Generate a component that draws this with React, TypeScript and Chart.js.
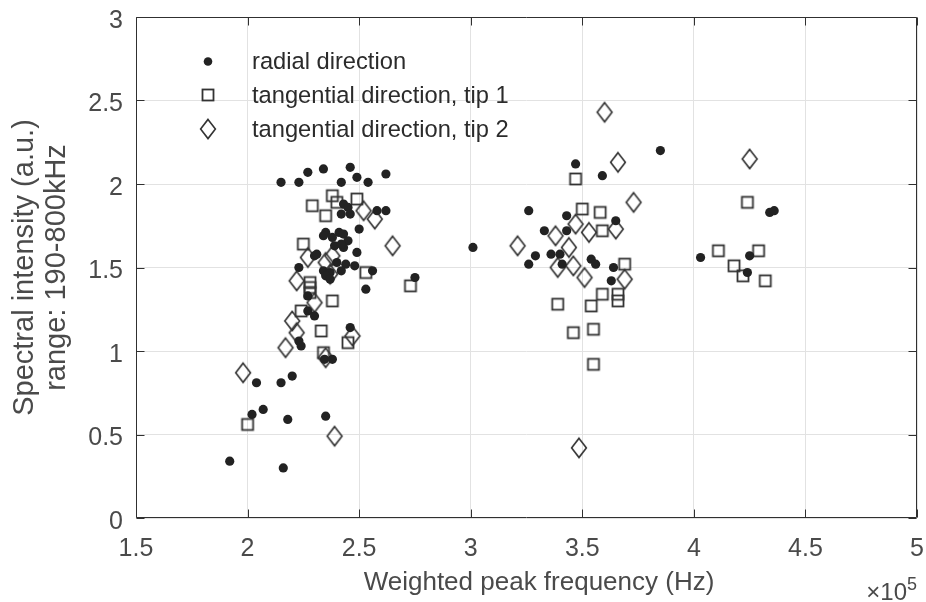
import React, { useEffect, useRef } from "react";
import { Chart, registerables } from "chart.js";

Chart.register(...registerables);

// ---- data (x in units of 1e5 Hz) ----
const radialX = [
  1.92, 2.16, 2.02, 2.07, 2.04, 2.15, 2.20, 2.18, 2.35, 2.23,
  2.24, 2.27, 2.30, 2.345, 2.38, 2.46, 2.27, 2.15, 2.23, 2.27,
  2.34, 2.46, 2.49, 2.42, 2.54, 2.62, 2.43, 2.45, 2.42, 2.46,
  2.58, 2.62, 2.50, 2.35, 2.41, 2.43, 2.34, 2.38, 2.45, 2.39,
  2.43, 2.42, 2.30, 2.31, 2.49, 2.40, 2.44, 2.48, 2.23, 2.34,
  2.37, 2.42, 2.56, 2.53, 2.75, 2.35, 2.37, 3.01, 3.26, 3.47,
  3.59, 3.85, 3.43, 3.65, 3.33, 3.43, 3.29, 3.26, 3.36, 3.40,
  3.41, 3.54, 3.56, 3.64, 3.63, 4.03, 4.25, 4.24, 4.34, 4.36,
];
const radialY = [
  0.34, 0.30, 0.62, 0.65, 0.81, 0.81, 0.85, 0.59, 0.61, 1.06,
  1.03, 1.24, 1.21, 0.95, 0.95, 1.14, 1.33, 2.01, 2.01, 2.07,
  2.09, 2.10, 2.04, 2.01, 2.01, 2.06, 1.88, 1.86, 1.82, 1.82,
  1.84, 1.84, 1.73, 1.71, 1.71, 1.70, 1.69, 1.68, 1.66, 1.63,
  1.62, 1.64, 1.57, 1.58, 1.59, 1.53, 1.52, 1.51, 1.50, 1.48,
  1.47, 1.48, 1.48, 1.37, 1.44, 1.45, 1.43, 1.62, 1.84, 2.12,
  2.05, 2.20, 1.81, 1.78, 1.72, 1.72, 1.57, 1.52, 1.58, 1.58,
  1.52, 1.55, 1.52, 1.50, 1.42, 1.56, 1.57, 1.47, 1.83, 1.84,
];
const tip1X = [
  2.00, 2.34, 2.45, 2.33, 2.24, 2.38, 2.28, 2.28, 2.28, 2.25,
  2.53, 2.73, 2.38, 2.29, 2.35, 2.40, 2.49, 3.47, 3.50, 3.58,
  3.59, 3.69, 3.59, 3.66, 3.66, 3.39, 3.54, 3.46, 3.55, 3.55,
  4.24, 4.11, 4.29, 4.18, 4.22, 4.32,
];
const tip1Y = [
  0.56, 0.99, 1.05, 1.12, 1.24, 1.30, 1.41, 1.38, 1.35, 1.64,
  1.47, 1.39, 1.93, 1.87, 1.81, 1.89, 1.91, 2.03, 1.85, 1.83,
  1.72, 1.52, 1.34, 1.34, 1.30, 1.28, 1.27, 1.11, 1.13, 0.92,
  1.89, 1.60, 1.60, 1.51, 1.45, 1.42,
];
const tip2X = [
  1.98, 2.39, 2.17, 2.20, 2.22, 2.35, 2.47, 2.22, 2.30, 2.27,
  2.35, 2.37, 2.38, 2.52, 2.57, 2.65, 3.21, 3.60, 3.66, 3.73,
  3.47, 3.65, 3.53, 3.38, 3.44, 3.39, 3.46, 3.51, 3.69, 3.485,
  4.25,
];
const tip2Y = [
  0.87, 0.49, 1.02, 1.18, 1.11, 0.96, 1.09, 1.42, 1.29, 1.56,
  1.53, 1.46, 1.57, 1.84, 1.79, 1.63, 1.63, 2.43, 2.13, 1.89,
  1.76, 1.73, 1.71, 1.69, 1.62, 1.50, 1.51, 1.44, 1.43, 0.42,
  2.15,
];

const seriesLabels = [
  "radial direction",
  "tangential direction, tip 1",
  "tangential direction, tip 2",
];
const xTicks = [1.5, 2, 2.5, 3, 3.5, 4, 4.5, 5];
const yTicks = [0, 0.5, 1, 1.5, 2, 2.5, 3];
const xTitle = "Weighted peak frequency (Hz)";
const yTitle = ["Spectral intensity (a.u.)", "range: 190-800kHz"];
const xMultiplierBase = "×10";
const xMultiplierExp = "5";

const FONT = "'Liberation Sans', Arial, Helvetica, sans-serif";
const TEXT = "#4a4a4a";
const INK = "#2b2b2b";

function makeSquare(): HTMLCanvasElement {
  const c = document.createElement("canvas");
  c.width = 16;
  c.height = 16;
  const g = c.getContext("2d")!;
  g.strokeStyle = "#333";
  g.lineWidth = 1.8;
  g.strokeRect(2.5, 2.5, 11, 11);
  return c;
}

function makeDiamond(): HTMLCanvasElement {
  const c = document.createElement("canvas");
  c.width = 22;
  c.height = 26;
  const g = c.getContext("2d")!;
  g.strokeStyle = "#333";
  g.lineWidth = 1.6;
  g.lineJoin = "miter";
  g.beginPath();
  g.moveTo(11, 13 - 9.6);
  g.lineTo(11 + 7.4, 13);
  g.lineTo(11, 13 + 9.6);
  g.lineTo(11 - 7.4, 13);
  g.closePath();
  g.stroke();
  return c;
}

const zeroPad = (s: any) => {
  s.paddingLeft = 0;
  s.paddingRight = 0;
  s.paddingTop = 0;
  s.paddingBottom = 0;
};

export default function App() {
  const ref = useRef<HTMLCanvasElement | null>(null);

  useEffect(() => {
    if (!ref.current) return;
    const square = makeSquare();
    const diamond = makeDiamond();

    const decor = {
      id: "decor",
      afterDraw(chart: any) {
        const { ctx, chartArea, scales } = chart;
        const { left, right, top, bottom } = chartArea;
        const xs = scales.x;
        const ys = scales.y;
        ctx.save();
        // frame + inward ticks
        ctx.strokeStyle = "#303030";
        ctx.lineWidth = 1;
        const L = Math.round(left) + 0.5;
        const R = Math.round(right) - 0.5;
        const T = Math.round(top) + 0.5;
        const B = Math.round(bottom) - 0.5;
        ctx.beginPath();
        for (const v of xTicks) {
          const px = Math.round(xs.getPixelForValue(v)) + 0.5;
          ctx.moveTo(px, B);
          ctx.lineTo(px, B - 8);
          ctx.moveTo(px, T);
          ctx.lineTo(px, T + 8);
        }
        for (const v of yTicks) {
          const py = Math.round(ys.getPixelForValue(v)) + 0.5;
          ctx.moveTo(L, py);
          ctx.lineTo(L + 8, py);
          ctx.moveTo(R, py);
          ctx.lineTo(R - 8, py);
        }
        ctx.rect(L, T, R - L, B - T);
        ctx.stroke();

        // legend (no box, drawn over grid)
        const mx = 208;
        const rows = [61.5, 95, 129];
        ctx.fillStyle = "#222";
        ctx.beginPath();
        ctx.arc(mx, rows[0], 4.3, 0, Math.PI * 2);
        ctx.fill();
        ctx.drawImage(square, mx - square.width / 2, rows[1] - square.height / 2);
        ctx.drawImage(diamond, mx - diamond.width / 2, rows[2] - diamond.height / 2);
        ctx.fillStyle = INK;
        ctx.font = `23.7px ${FONT}`;
        ctx.textAlign = "left";
        ctx.textBaseline = "middle";
        seriesLabels.forEach((t, i) => ctx.fillText(t, 252, rows[i] + 1));

        // x-axis title
        ctx.fillStyle = TEXT;
        ctx.font = `26px ${FONT}`;
        ctx.textAlign = "center";
        ctx.textBaseline = "middle";
        ctx.fillText(xTitle, 539, 583);

        // x multiplier
        ctx.font = `24px ${FONT}`;
        ctx.textAlign = "right";
        ctx.textBaseline = "alphabetic";
        ctx.fillText(xMultiplierBase, 907, 600);
        ctx.font = `18px ${FONT}`;
        ctx.textAlign = "left";
        ctx.fillText(xMultiplierExp, 907, 590);
        ctx.restore();
      },
    };

    const fmt = (v: any) => String(Number(v));

    const chart = new Chart(ref.current, {
      type: "scatter",
      data: {
        datasets: [
          {
            label: seriesLabels[0],
            data: radialX.map((x, i) => ({ x, y: radialY[i] })),
            pointStyle: "circle",
            pointRadius: 4.6,
            backgroundColor: "#222",
            borderWidth: 0,
          },
          {
            label: seriesLabels[1],
            data: tip1X.map((x, i) => ({ x, y: tip1Y[i] })),
            pointStyle: square as any,
            pointRadius: 8,
          },
          {
            label: seriesLabels[2],
            data: tip2X.map((x, i) => ({ x, y: tip2Y[i] })),
            pointStyle: diamond as any,
            pointRadius: 8,
          },
        ],
      },
      options: {
        responsive: false,
        animation: false,
        events: [],
        layout: { padding: { left: 0, right: 9, top: 17, bottom: 0 } },
        plugins: {
          legend: { display: false },
          tooltip: { enabled: false },
        },
        scales: {
          x: {
            type: "linear",
            min: 1.5,
            max: 5,
            afterFit: (s: any) => {
              s.height = 84;
              zeroPad(s);
            },
            ticks: {
              stepSize: 0.5,
              autoSkip: false,
              maxRotation: 0,
              padding: 16,
              color: TEXT,
              font: { family: FONT, size: 25 },
              callback: fmt,
            },
            grid: { color: "#e2e2e2", lineWidth: 1, drawTicks: false },
            border: { display: false },
            title: { display: false },
          },
          y: {
            type: "linear",
            min: 0,
            max: 3,
            afterFit: (s: any) => {
              s.width = 136;
              zeroPad(s);
            },
            ticks: {
              stepSize: 0.5,
              padding: 13,
              labelOffset: 4,
              color: TEXT,
              font: { family: FONT, size: 25 },
              callback: fmt,
            },
            grid: { color: "#e2e2e2", lineWidth: 1, drawTicks: false },
            border: { display: false },
            title: {
              display: true,
              text: yTitle,
              color: TEXT,
              font: { family: FONT, size: 29, lineHeight: 1.1 },
              padding: { top: 9, bottom: 0 },
            },
          },
        },
      },
      plugins: [decor],
    });
    return () => chart.destroy();
  }, []);

  return (
    <div style={{ position: "absolute", left: 0, top: 0, width: 926, height: 602, background: "#fff" }}>
      <canvas ref={ref} width={926} height={602} style={{ display: "block" }} />
    </div>
  );
}
